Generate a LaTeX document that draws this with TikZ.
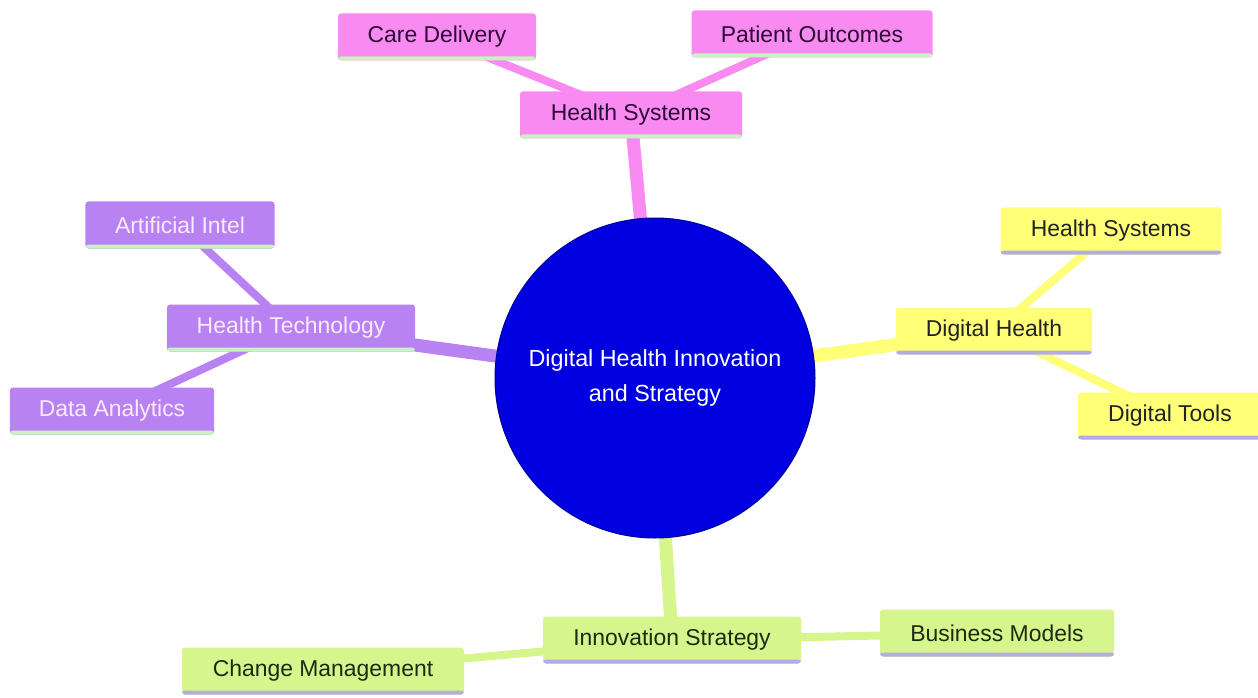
\documentclass[tikz,border=0pt]{standalone}
\usepackage{fontspec}
\setmainfont{Liberation Sans}
\usetikzlibrary{backgrounds}
\definecolor{pinkF}{HTML}{F88AF2}
\definecolor{purpF}{HTML}{B882F2}
\definecolor{yelF}{HTML}{FFFF78}
\definecolor{grnF}{HTML}{D6F58C}
\definecolor{lineG}{HTML}{C9F2C2}
\definecolor{lineL}{HTML}{B4ACE6}
\definecolor{rootB}{HTML}{0000E0}
\definecolor{pinkT}{HTML}{2B0A33}
\definecolor{darkT}{HTML}{222222}
\definecolor{grnT}{HTML}{1E2A10}
\definecolor{purpT}{HTML}{FCEBFC}
\tikzset{
  box/.style={rectangle, rounded corners=3bp, minimum height=47bp, inner xsep=0pt,
    font=\fontsize{23}{27}\selectfont},
  strip/.style={path picture={\fill[#1] ([yshift=4bp]path picture bounding box.south west)
    rectangle (path picture bounding box.south east);}},
  pinkbox/.style={box, fill=pinkF, text=pinkT, strip=lineG},
  purpbox/.style={box, fill=purpF, text=purpT, strip=lineG},
  yelbox/.style={box, fill=yelF, text=darkT, strip=lineL},
  grnbox/.style={box, fill=grnF, text=grnT, strip=lineL},
  rootnode/.style={circle, fill=rootB, draw=rootB!70!black, line width=1bp,
    minimum size=320bp, inner sep=0pt, text=white, align=center,
    font=\fontsize{23.4}{35}\selectfont},
  trunk/.style={line width=13bp},
  twig/.style={line width=8bp},
}
\begin{document}
\begin{tikzpicture}[x=1bp,y=-1bp]
\useasboundingbox (0,0) rectangle (1258,698);
\node[rootnode] (c) at (655,378) {Digital Health Innovation\\and Strategy};
% pink
\node[pinkbox, minimum width=222bp] (hs) at (631,115) {Health Systems};
\node[pinkbox, minimum width=198bp] (care) at (437,37) {Care Delivery};
\node[pinkbox, minimum width=241bp] (po) at (812,34) {Patient Outcomes};
% purple
\node[purpbox, minimum width=248bp] (ht) at (291,328) {Health Technology};
\node[purpbox, minimum width=189bp] (ai) at (180,225) {Artificial Intel};
\node[purpbox, minimum width=204bp] (da) at (112,411) {Data Analytics};
% yellow
\node[yelbox, minimum width=196bp] (dh) at (994,331) {Digital Health};
\node[yelbox, minimum width=221bp] (hs2) at (1111,231) {Health Systems};
\node[yelbox, minimum width=184bp] (dt) at (1170,416) {Digital Tools};
% green
\node[grnbox, minimum width=258bp] (is) at (672,640) {Innovation Strategy};
\node[grnbox, minimum width=234bp] (bm) at (997,633) {Business Models};
\node[grnbox, minimum width=282bp] (cm) at (323,671) {Change Management};
\begin{pgfonlayer}{background}
\draw[trunk, pinkF] (c.center) -- (hs.center);
\draw[twig, pinkF] (hs.center) -- (care.center);
\draw[twig, pinkF] (hs.center) -- (po.center);
\draw[trunk, purpF] (c.center) -- (ht.center);
\draw[twig, purpF] (ht.center) -- (ai.center);
\draw[twig, purpF] (ht.center) -- (da.center);
\draw[trunk, yelF] (c.center) -- (dh.center);
\draw[twig, yelF] (dh.center) -- (hs2.center);
\draw[twig, yelF] (dh.center) -- (dt.center);
\draw[trunk, grnF] (c.center) -- (is.center);
\draw[twig, grnF] (is.center) -- (bm.center);
\draw[twig, grnF] (is.center) -- (cm.center);
\end{pgfonlayer}
\end{tikzpicture}
\end{document}
